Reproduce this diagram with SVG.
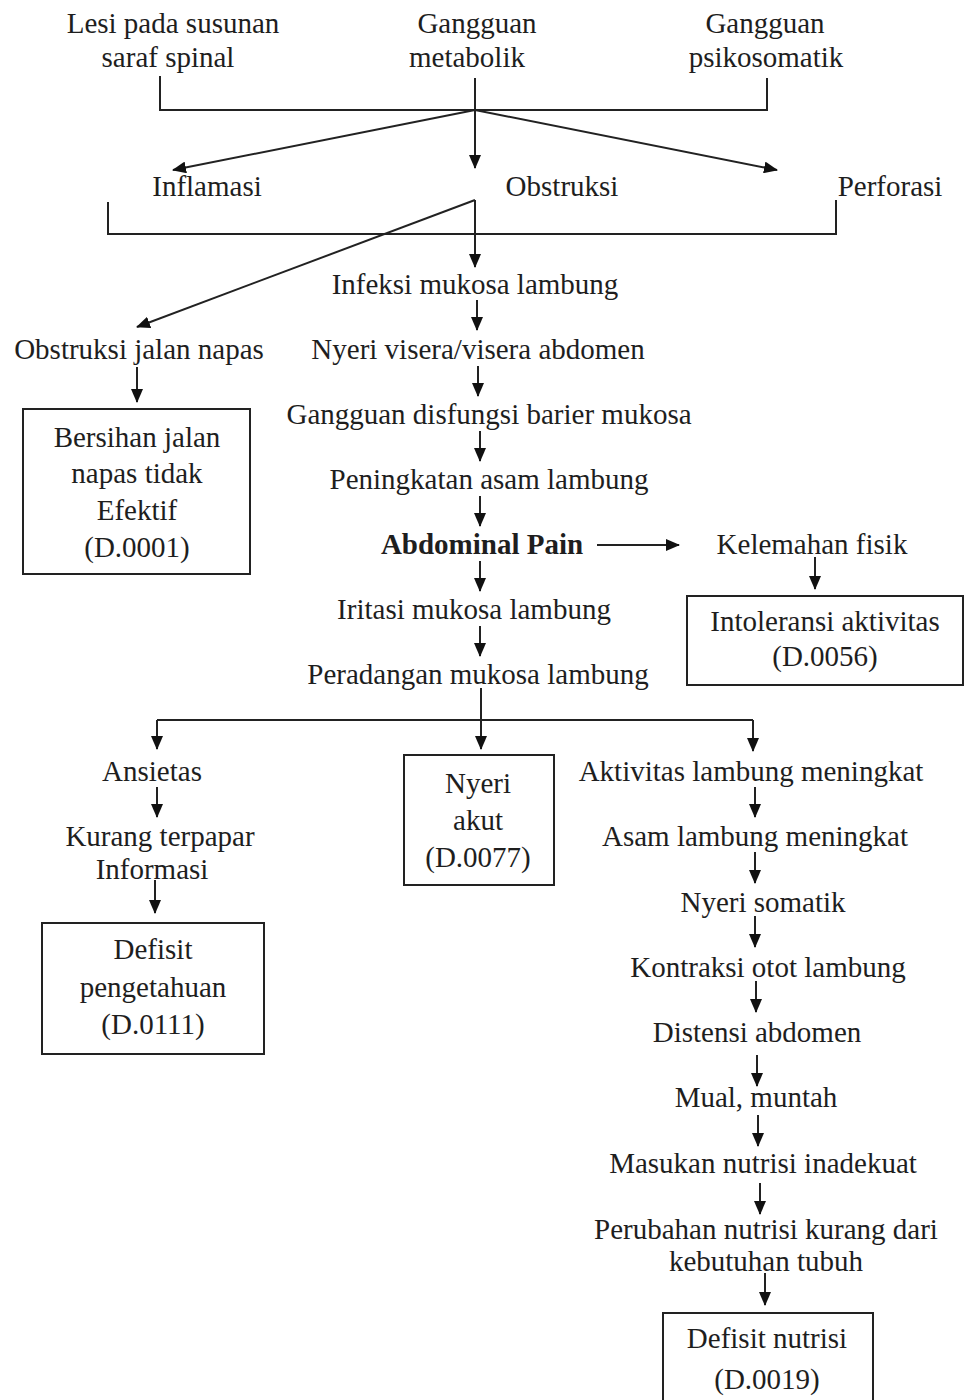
<svg xmlns="http://www.w3.org/2000/svg" width="966" height="1400" viewBox="0 0 966 1400">
<style>
text{font-family:"Liberation Serif","Times New Roman",serif;font-size:29px;fill:#1e1e1e;text-anchor:middle}
.b{font-weight:bold}
.ln{fill:none;stroke:#222;stroke-width:2}
.ar{fill:none;stroke:#222;stroke-width:2;marker-end:url(#ah)}
.box{fill:none;stroke:#222;stroke-width:2}
</style>
<defs>
<marker id="ah" markerUnits="userSpaceOnUse" markerWidth="14" markerHeight="12" refX="13" refY="6" orient="auto">
<path d="M0,0 L14,6 L0,12 z" fill="#111"/>
</marker>
</defs>
<rect width="966" height="1400" fill="#fff"/>
<g id="connectors">
<path class="ln" d="M160,76 V110 H767 V78"/>
<path class="ln" d="M475,78 V110"/>
<path class="ar" d="M475,110 L173,170"/>
<path class="ar" d="M475,110 V168"/>
<path class="ar" d="M475,110 L777,170"/>
<path class="ln" d="M108,202 V234 H836 V200"/>
<path class="ar" d="M475,200 L137,327"/>
<path class="ar" d="M475,200 V267"/>
<path class="ar" d="M477,300 V330"/>
<path class="ar" d="M478,366 V396"/>
<path class="ar" d="M480,431 V461"/>
<path class="ar" d="M480,496 V526"/>
<path class="ar" d="M597,545 H679"/>
<path class="ar" d="M815,557 V589"/>
<path class="ar" d="M480,561 V591"/>
<path class="ar" d="M480,626 V656"/>
<path class="ln" d="M481,688 V720"/>
<path class="ln" d="M157,720 H753"/>
<path class="ar" d="M157,720 V749"/>
<path class="ar" d="M481,720 V749"/>
<path class="ar" d="M753,720 V751"/>
<path class="ar" d="M137,367 V402"/>
<path class="ar" d="M157,787 V817"/>
<path class="ar" d="M155,880 V913"/>
<path class="ar" d="M755,787 V817"/>
<path class="ar" d="M755,852 V883"/>
<path class="ar" d="M755,916 V947"/>
<path class="ar" d="M756,981 V1012"/>
<path class="ar" d="M757,1055 V1086"/>
<path class="ar" d="M758,1115 V1146"/>
<path class="ar" d="M760,1183 V1214"/>
<path class="ar" d="M765,1273 V1305"/>
</g>
<g id="n-lesi"><text x="173" y="33">Lesi pada susunan</text><text x="168" y="67">saraf spinal</text></g>
<g id="n-metabolik"><text x="477" y="33">Gangguan</text><text x="467" y="67">metabolik</text></g>
<g id="n-psiko"><text x="765" y="33">Gangguan</text><text x="766" y="67">psikosomatik</text></g>
<g id="n-inflamasi"><text x="207" y="196">Inflamasi</text></g>
<g id="n-obstruksi"><text x="562" y="196">Obstruksi</text></g>
<g id="n-perforasi"><text x="890" y="196">Perforasi</text></g>
<g id="n-infeksi"><text x="475" y="294">Infeksi mukosa lambung</text></g>
<g id="n-obs-napas"><text x="139" y="359">Obstruksi jalan napas</text></g>
<g id="n-bersihan"><rect class="box" x="23" y="409" width="227" height="165"/><text x="137" y="447">Bersihan jalan</text><text x="137" y="483">napas tidak</text><text x="137" y="520">Efektif</text><text x="137" y="557">(D.0001)</text></g>
<g id="n-nyeri-visera"><text x="478" y="359">Nyeri visera/visera abdomen</text></g>
<g id="n-gangguan-barier"><text x="489" y="424">Gangguan disfungsi barier mukosa</text></g>
<g id="n-peningkatan"><text x="489" y="489">Peningkatan asam lambung</text></g>
<g id="n-abdominal"><text class="b" x="482" y="554">Abdominal Pain</text></g>
<g id="n-kelemahan"><text x="812" y="554">Kelemahan fisik</text></g>
<g id="n-intoleransi"><rect class="box" x="687" y="596" width="276" height="89"/><text x="825" y="631">Intoleransi aktivitas</text><text x="825" y="666">(D.0056)</text></g>
<g id="n-iritasi"><text x="474" y="619">Iritasi mukosa lambung</text></g>
<g id="n-peradangan"><text x="478" y="684">Peradangan mukosa lambung</text></g>
<g id="n-ansietas"><text x="152" y="781">Ansietas</text></g>
<g id="n-kurang"><text x="160" y="846">Kurang terpapar</text><text x="152" y="879">Informasi</text></g>
<g id="n-defisit-peng"><rect class="box" x="42" y="923" width="222" height="131"/><text x="153" y="959">Defisit</text><text x="153" y="997">pengetahuan</text><text x="153" y="1034">(D.0111)</text></g>
<g id="n-nyeri-akut"><rect class="box" x="404" y="755" width="150" height="130"/><text x="478" y="793">Nyeri</text><text x="478" y="830">akut</text><text x="478" y="867">(D.0077)</text></g>
<g id="n-aktivitas"><text x="751" y="781">Aktivitas lambung meningkat</text></g>
<g id="n-asam"><text x="755" y="846">Asam lambung meningkat</text></g>
<g id="n-somatik"><text x="763" y="912">Nyeri somatik</text></g>
<g id="n-kontraksi"><text x="768" y="977">Kontraksi otot lambung</text></g>
<g id="n-distensi"><text x="757" y="1042">Distensi abdomen</text></g>
<g id="n-mual"><text x="756" y="1107">Mual, muntah</text></g>
<g id="n-masukan"><text x="763" y="1173">Masukan nutrisi inadekuat</text></g>
<g id="n-perubahan"><text x="766" y="1239">Perubahan nutrisi kurang dari</text><text x="766" y="1271">kebutuhan tubuh</text></g>
<g id="n-defisit-nutrisi"><rect class="box" x="663" y="1313" width="210" height="100"/><text x="767" y="1348">Defisit nutrisi</text><text x="767" y="1389">(D.0019)</text></g>
</svg>
